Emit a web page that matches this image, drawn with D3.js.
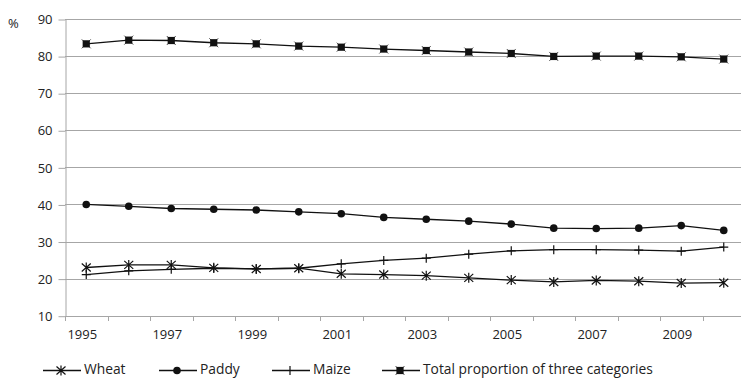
<!DOCTYPE html>
<html>
<head lang="en">
  <meta charset="UTF-8">
  <title>Grain proportions 1995-2010</title>
</head>
<style>
  body { margin: 0; background: #fff; }
  #chart text { font-family: "Open Sans", sans-serif; font-size: 13px; fill: #222; }
  #chart .legend text { font-size: 13.8px; }
  #chart .grid line { stroke: #a6a6a6; stroke-width: 1; }
  #chart .axis line, #chart .axis path { stroke: #a6a6a6; stroke-width: 1; }
  #chart .series path.line { fill: none; stroke: #111; stroke-width: 1.3; }
</style>
<body>

<svg id="chart" width="741" height="378"></svg>

<script src="https://cdn.jsdelivr.net/npm/d3@7"></script>
<script>
  // Data
  var years  = ['1995', '1996', '1997', '1998', '1999', '2000', '2001', '2002',
                '2003', '2004', '2005', '2006', '2007', '2008', '2009', '2010'];
  var wheat  = [23.0, 23.7, 23.7, 22.9, 22.6, 22.8, 21.3, 21.1, 20.8, 20.2, 19.6, 19.1, 19.5, 19.3, 18.8, 18.9];
  var paddy  = [40.0, 39.5, 38.9, 38.7, 38.5, 38.0, 37.5, 36.5, 36.0, 35.5, 34.7, 33.6, 33.5, 33.6, 34.3, 33.0];
  var maize  = [21.1, 22.1, 22.5, 22.8, 22.6, 22.8, 24.0, 24.9, 25.5, 26.6, 27.5, 27.8, 27.8, 27.7, 27.4, 28.5];
  var total  = [83.3, 84.3, 84.2, 83.6, 83.3, 82.7, 82.4, 81.9, 81.5, 81.1, 80.7, 79.9, 80.0, 80.0, 79.8, 79.2];
  var yTicks = [10, 20, 30, 40, 50, 60, 70, 80, 90];
  var xLabels = ['1995', '1997', '1999', '2001', '2003', '2005', '2007', '2009'];

  var series = [
    { name: 'Wheat',  values: wheat, marker: 'xstar' },
    { name: 'Paddy',  values: paddy, marker: 'circle' },
    { name: 'Maize',  values: maize, marker: 'plus' },
    { name: 'Total proportion of three categories', values: total, marker: 'square' }
  ];

  // plot box (note: "top" is taken by window.top, so use other names)
  var plotLeft = 65, plotRight = 745, plotTop = 19, plotBottom = 315.7;

  var chart = d3.select('#chart');

  var x = d3.scaleBand().domain(years).range([plotLeft, plotRight]);
  var y = d3.scaleLinear().domain([10, 90]).range([plotBottom, plotTop]);

  function cx(i) { return x(years[i]) + x.bandwidth() / 2; }
  function crisp(v) { return Math.round(v) + 0.5; }

  // horizontal gridlines
  chart.append('g').attr('class', 'grid')
    .selectAll('line')
    .data(yTicks.slice(1))
    .enter().append('line')
      .attr('x1', plotLeft).attr('x2', plotRight)
      .attr('y1', function (d) { return crisp(y(d)); })
      .attr('y2', function (d) { return crisp(y(d)); });

  // y axis
  chart.append('g').attr('class', 'axis')
    .attr('transform', 'translate(' + (plotLeft + 0.5) + ',0.5)')
    .call(d3.axisLeft(y).tickValues(yTicks).tickSize(7).tickSizeOuter(0).tickPadding(6));

  // x axis: baseline, ticks at band edges, labels every other year
  var xAxis = chart.append('g').attr('class', 'axis');
  xAxis.append('line')
    .attr('x1', plotLeft).attr('x2', plotRight)
    .attr('y1', crisp(plotBottom)).attr('y2', crisp(plotBottom));
  xAxis.selectAll('line.tick')
    .data(years)
    .enter().append('line')
      .attr('class', 'tick')
      .attr('x1', function (d) { return crisp(x(d)); })
      .attr('x2', function (d) { return crisp(x(d)); })
      .attr('y1', Math.round(plotBottom)).attr('y2', Math.round(plotBottom) + 5);
  xAxis.selectAll('text')
    .data(xLabels)
    .enter().append('text')
      .attr('x', function (d) { return x(d) + x.bandwidth() / 2 - 4; })
      .attr('y', 339)
      .attr('text-anchor', 'middle')
      .text(function (d) { return d; });

  chart.append('text').attr('x', 8).attr('y', 28).text('%');

  var line = d3.line()
    .x(function (d, i) { return cx(i); })
    .y(function (d) { return y(d); });

  function drawMarker(sel, type) {
    if (type === 'circle') {
      sel.append('circle').attr('r', 3.8).attr('fill', '#111');
    } else if (type === 'square') {
      sel.append('path').attr('d', 'M-4.5,-4.5L4.5,4.5M-4.5,4.5L4.5,-4.5')
        .attr('stroke', '#555').attr('stroke-width', 1);
      sel.append('rect').attr('x', -3.6).attr('y', -3.6).attr('width', 7.2).attr('height', 7.2)
        .attr('fill', '#111');
    } else if (type === 'plus') {
      sel.append('path').attr('d', 'M-4.5,0L4.5,0M0,-4.5L0,4.5')
        .attr('stroke', '#111').attr('stroke-width', 1.2).attr('fill', 'none');
    } else {
      sel.append('path').attr('d', 'M-4.5,-4L4.5,4M-4.5,4L4.5,-4M0,-5L0,5')
        .attr('stroke', '#111').attr('stroke-width', 1.2).attr('fill', 'none');
    }
  }

  var g = chart.selectAll('g.series')
    .data(series)
    .enter().append('g').attr('class', 'series');

  g.append('path')
    .attr('class', 'line')
    .attr('d', function (s) { return line(s.values); });

  g.each(function (s) {
    d3.select(this).selectAll('g.pt')
      .data(s.values)
      .enter().append('g')
        .attr('class', 'pt')
        .attr('transform', function (d, i) { return 'translate(' + cx(i) + ',' + y(d) + ')'; })
        .each(function () { drawMarker(d3.select(this), s.marker); });
  });

  // legend
  var legendX = [43, 159, 272, 382];
  var legend = chart.selectAll('g.legend')
    .data(series)
    .enter().append('g')
      .attr('class', 'legend')
      .attr('transform', function (s, i) { return 'translate(' + legendX[i] + ',370.5)'; });

  legend.append('line')
    .attr('x1', 0).attr('x2', 38)
    .attr('stroke', '#111').attr('stroke-width', 1.3);
  legend.append('g')
    .attr('transform', 'translate(18,0)')
    .each(function (s) { drawMarker(d3.select(this), s.marker); });
  legend.append('text')
    .attr('x', 41).attr('y', 3.5)
    .text(function (s) { return s.name; });
</script>
</body>
</html>
